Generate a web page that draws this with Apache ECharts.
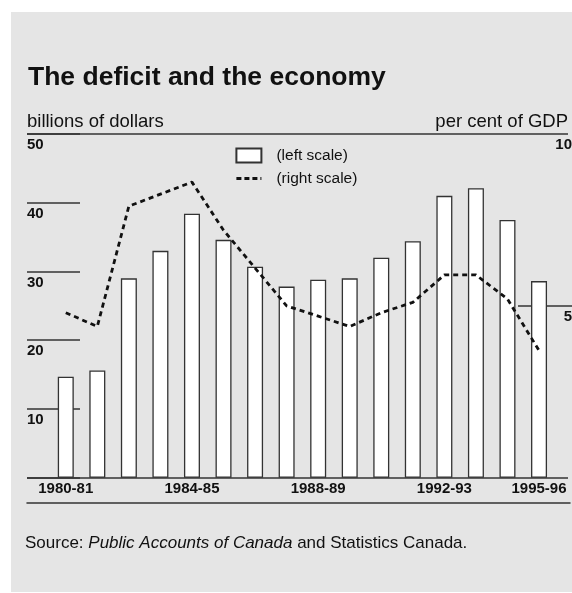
<!DOCTYPE html>
<html>
<head>
<meta charset="utf-8">
<script src="https://cdn.jsdelivr.net/npm/echarts@6/dist/echarts.min.js"></script>
<style>
  html, body { margin: 0; padding: 0; background: #ffffff; }
  #wrap { position: relative; width: 572px; height: 593px; background: #ffffff; }
  #panel { position: absolute; left: 11px; top: 12px; width: 561px; height: 580px; background: #e5e5e5; }
  #chart { position: absolute; left: 0; top: 0; width: 572px; height: 593px; }
</style>
</head>
<body>
<div id="wrap"><div id="panel"></div><div id="chart"></div></div>
<script>
// ---- data ----
const categories = ['1980-81','1981-82','1982-83','1983-84','1984-85','1985-86','1986-87','1987-88',
                    '1988-89','1989-90','1990-91','1991-92','1992-93','1993-94','1994-95','1995-96'];
const deficitBillions = [14.7, 15.6, 29.0, 33.0, 38.4, 34.6, 30.7, 27.8, 28.8, 29.0, 32.0, 34.4, 41.0, 42.1, 37.5, 28.6];
const deficitPctGDP   = [4.8, 4.4, 7.9, 8.25, 8.6, 7.2, 6.1, 5.0, 4.7, 4.4, 4.8, 5.1, 5.9, 5.9, 5.2, 3.7];
const shownLabelIdx = [0, 4, 8, 12, 15];
const leftTicks = { min: 0, max: 50, interval: 10 };
const rightTicks = { min: 0, max: 10, interval: 5 };
const titleText = 'The deficit and the economy';
const leftUnit = 'billions of dollars';
const rightUnit = 'per cent of GDP';
const barLegend = '(left scale)';
const lineLegend = '(right scale)';

const FONT = '"Liberation Sans", Arial, Helvetica, sans-serif';
const INK = '#111111';
const RULE = '#333333';

const chart = echarts.init(document.getElementById('chart'), null, { renderer: 'canvas' });

const plotTop = 134, plotBottom = 115.3;

const option = {
  backgroundColor: 'transparent',
  animation: false,
  textStyle: { fontFamily: FONT, color: INK },
  title: [
    { text: titleText, left: 28, top: 64, padding: 0,
      textStyle: { fontFamily: FONT, fontSize: 26.5, fontWeight: 'bold', color: INK } },
    { text: leftUnit, left: 27, top: 112.5, padding: 0,
      textStyle: { fontFamily: FONT, fontSize: 18.5, fontWeight: 'normal', color: INK } },
    { text: rightUnit, right: 4, top: 112.5, padding: 0,
      textStyle: { fontFamily: FONT, fontSize: 18.5, fontWeight: 'normal', color: INK } },
    { text: '{a|Source: }{b|Public Accounts of Canada}{a| and Statistics Canada.}', left: 25, top: 535, padding: 0,
      textStyle: { fontFamily: FONT, fontSize: 17, fontWeight: 'normal', color: INK,
        rich: {
          a: { fontFamily: FONT, fontSize: 17, fontWeight: 'normal', color: INK },
          b: { fontFamily: FONT, fontSize: 17, fontWeight: 'normal', color: INK, fontStyle: 'italic' }
        } } }
  ],
  legend: {
    orient: 'vertical', left: 235, top: 147.5, padding: 0,
    itemWidth: 25, itemHeight: 14, itemGap: 7,
    lineStyle: { width: 2.8, type: [5, 3], color: '#111111' },
    textStyle: { fontFamily: FONT, fontSize: 15.5, color: INK, lineHeight: 14, padding: [0, 0, 0, 10] },
    data: [
      { name: barLegend, icon: 'rect' },
      { name: lineLegend,
        itemStyle: { color: 'rgba(0,0,0,0)', borderColor: 'rgba(0,0,0,0)', borderWidth: 0, opacity: 0 } }
    ]
  },
  grid: [
    { left: 50, right: 17.2, top: plotTop, bottom: plotBottom, outerBoundsMode: 'none' },   // 0 main plot
    { left: 27, width: 53, top: plotTop, bottom: plotBottom, outerBoundsMode: 'none' },      // 1 left tick rules
    { left: 518, right: 0, top: plotTop, bottom: plotBottom, outerBoundsMode: 'none' },      // 2 right tick rules
    { left: 27, right: 4, top: plotTop, bottom: plotBottom, outerBoundsMode: 'none' },       // 3 top & base rules
    { left: 27, right: 2, top: 502, height: 1, outerBoundsMode: 'none' }                     // 4 bottom rule
  ],
  xAxis: [
    { gridIndex: 0, type: 'category', data: categories, boundaryGap: true,
      axisLine: { show: false }, axisTick: { show: false }, splitLine: { show: false },
      axisLabel: { show: true, interval: (i) => shownLabelIdx.includes(i), margin: 4,
        fontFamily: FONT, fontSize: 15, fontWeight: 'bold', color: INK } },
    { gridIndex: 1, type: 'value', show: false, min: 0, max: 1 },
    { gridIndex: 2, type: 'value', show: false, min: 0, max: 1 },
    { gridIndex: 3, type: 'value', show: false, min: 0, max: 1 },
    { gridIndex: 4, type: 'value', min: 0, max: 1, position: 'top',
      axisLine: { show: true, lineStyle: { color: RULE, width: 1.5 } },
      axisTick: { show: false }, axisLabel: { show: false }, splitLine: { show: false } }
  ],
  yAxis: [
    { gridIndex: 0, type: 'value', min: leftTicks.min, max: leftTicks.max, interval: leftTicks.interval, show: false },
    { gridIndex: 0, type: 'value', position: 'right', min: rightTicks.min, max: rightTicks.max, interval: rightTicks.interval, show: false },
    { gridIndex: 1, type: 'value', position: 'left', min: leftTicks.min, max: leftTicks.max, interval: leftTicks.interval,
      axisLine: { show: false }, axisTick: { show: false },
      splitLine: { show: true, lineStyle: { color: RULE, width: 1.5 } },
      axisLabel: { show: true, inside: true, showMinLabel: false, margin: 0, align: 'left', verticalAlign: 'top',
        padding: [3.5, 0, 0, 0], fontFamily: FONT, fontSize: 15, fontWeight: 'bold', color: INK } },
    { gridIndex: 2, type: 'value', position: 'right', min: rightTicks.min, max: rightTicks.max, interval: rightTicks.interval,
      axisLine: { show: false }, axisTick: { show: false },
      splitLine: { show: true, showMinLine: false, showMaxLine: false, lineStyle: { color: RULE, width: 1.5 } },
      axisLabel: { show: true, inside: true, showMinLabel: false, margin: 0, align: 'right', verticalAlign: 'top',
        padding: [3.5, 0, 0, 0], fontFamily: FONT, fontSize: 15, fontWeight: 'bold', color: INK } },
    { gridIndex: 3, type: 'value', min: 0, max: 1, interval: 1,
      axisLine: { show: false }, axisTick: { show: false }, axisLabel: { show: false },
      splitLine: { show: true, lineStyle: { color: RULE, width: 1.5 } } },
    { gridIndex: 4, type: 'value', show: false, min: 0, max: 1 }
  ],
  series: [
    { name: barLegend, type: 'bar', xAxisIndex: 0, yAxisIndex: 0, data: deficitBillions,
      barWidth: 16, z: 3,
      itemStyle: { color: '#ffffff', borderColor: RULE, borderWidth: 1.3 } },
    { name: lineLegend, type: 'line', xAxisIndex: 0, yAxisIndex: 1, data: deficitPctGDP,
      symbol: 'none', z: 4,
      itemStyle: { color: '#111111' },
      lineStyle: { color: '#111111', width: 2.8, type: [5, 4] } }
  ]
};
chart.setOption(option);
</script>
</body>
</html>
